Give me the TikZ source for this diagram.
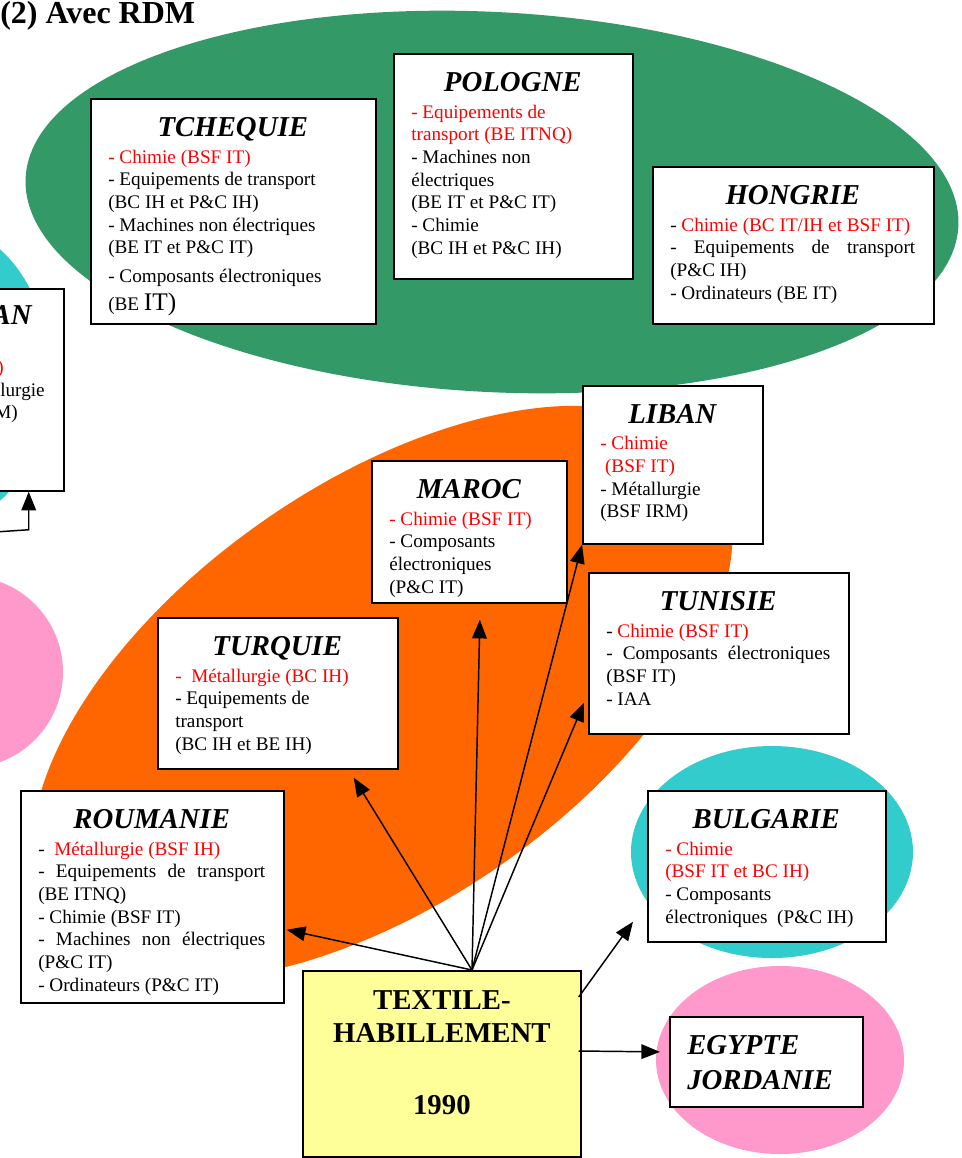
\documentclass[tikz,border=0pt]{standalone}
\usepackage{fontspec}
\setmainfont{Liberation Serif}
\usetikzlibrary{arrows.meta, calc}

\definecolor{vert}{RGB}{51,153,102}
\definecolor{orangeppt}{RGB}{255,102,0}
\definecolor{cyanppt}{RGB}{51,204,204}
\definecolor{rose}{RGB}{255,153,204}
\definecolor{jaune}{RGB}{255,255,153}

\newcommand{\rouge}[1]{\textcolor{red}{#1}}
\newcommand{\nom}[1]{\makebox[\hsize][c]{\fontsize{21.6}{25}\selectfont\bfseries\itshape #1}\\[3pt]}
\newcommand{\etale}[1]{\makebox[\hsize][s]{#1}}

\begin{document}
\begin{tikzpicture}[x=0.75pt, y=-0.75pt,
    boite/.style={draw, line width=1.3pt, fill=white, inner sep=0pt, anchor=north west},
    texte/.style={anchor=north west, align=left, inner xsep=13.5pt, inner ysep=14.25pt,
                  font=\fontsize{14.4}{17}\selectfont,
                  execute at begin node={\spaceskip=0pt\xspaceskip=0pt}},
    bout/.style={anchor=base east, inner sep=0pt, font=\fontsize{14.4}{17}\selectfont},
    fleche/.style={-{Triangle[length=14pt, width=11pt]}, line width=1.1pt}]

    % ================= Canvas =================
    \useasboundingbox (0,0) rectangle (962,1158);
    \clip (0,0) rectangle (962,1158);

    % ================= Backgrounds =================
    \fill[vert, rotate around={-3:(492,202)}] (492,202) ellipse [x radius=467, y radius=190];
    \fill[cyanppt] (-60,375) ellipse [x radius=110, y radius=150];
    \fill[rose] (-33,672) circle [radius=96];
    \fill[orangeppt, rotate around={35:(382,693)}] (382,693) ellipse [x radius=402, y radius=209];
    \fill[cyanppt] (772,852) ellipse [x radius=141, y radius=106];
    \fill[rose] (780,1060) ellipse [x radius=124, y radius=94];

    % ================= Title =================
    \node[anchor=base west, inner sep=0pt, font=\fontsize{24}{28}\selectfont\bfseries] (titre) at (0,23) {(2) Avec RDM};

    % ================= Countries (top) =================
    \node[boite, minimum width=213.75pt, minimum height=168.75pt] (tch) at (90,98) {};
    \node[texte, text width=186.75pt] (tch-t) at (tch.north west) {\nom{TCHEQUIE}
        \rouge{- Chimie (BSF IT)}\\
        - Equipements de transport\\
        (BC IH et P\&C IH)\\
        - Machines non électriques\\
        (BE IT et P\&C IT)\\[4.75pt]
        - Composants électroniques\\[4pt]
        (BE {\fontsize{19}{17}\selectfont IT)}};

    \node[boite, minimum width=179.25pt, minimum height=168.75pt] (pol) at (393,53) {};
    \node[texte, text width=152.25pt] (pol-t) at (pol.north west) {\nom{POLOGNE}
        \rouge{- Equipements de}\\
        \rouge{transport (BE ITNQ)}\\
        - Machines non\\
        électriques\\
        (BE IT et P\&C IT)\\
        - Chimie\\
        (BC IH et P\&C IH)};

    \node[boite, minimum width=210.75pt, minimum height=117.75pt] (hon) at (652,166) {};
    \node[texte, text width=183.75pt] (hon-t) at (hon.north west) {\nom{HONGRIE}
        - \rouge{Chimie (BC IT/IH et BSF IT)}\\
        \etale{- Equipements de transport}\\
        (P\&C IH)\\
        - Ordinateurs (BE IT)};

    % box cut by the left border
    \node[boite, minimum width=152.25pt, minimum height=151.5pt] (an) at (-140,288) {};
    \node[bout, font=\fontsize{21.6}{25}\selectfont\bfseries\itshape] (an-1) at (32,324) {AN};
    \node[bout, red] (an-2) at (4,373) {)};
    \node[bout] (an-3) at (45,396) {llurgie};
    \node[bout] (an-4) at (18,418) {M)};

    % ================= Countries (orange) =================
    \node[boite, minimum width=135pt, minimum height=118.5pt] (lib) at (582,385) {};
    \node[texte, text width=108pt] (lib-t) at (lib.north west) {\nom{LIBAN}
        \rouge{- Chimie}\\
        \rouge{\hspace*{0.25em}(BSF IT)}\\
        - Métallurgie\\
        (BSF IRM)};

    \node[boite, minimum width=146.25pt, minimum height=106.5pt] (mar) at (371,460) {};
    \node[texte, text width=119.25pt] (mar-t) at (mar.north west) {\nom{MAROC}
        \rouge{- Chimie (BSF IT)}\\
        - Composants\\
        électroniques\\
        (P\&C IT)};

    \node[boite, minimum width=195pt, minimum height=120.75pt] (tun) at (588,572) {};
    \node[texte, text width=168pt] (tun-t) at (tun.north west) {\nom{TUNISIE}
        - \rouge{Chimie (BSF IT)}\\
        \etale{- Composants électroniques}\\
        (BSF IT)\\
        - IAA};

    \node[boite, minimum width=180pt, minimum height=113.25pt] (tur) at (157,617) {};
    \node[texte, text width=153pt] (tur-t) at (tur.north west) {\nom{TURQUIE}
        \rouge{-\ \ Métallurgie (BC IH)}\\
        - Equipements de\\
        transport\\
        (BC IH et BE IH)};

    \node[boite, minimum width=197.25pt, minimum height=159pt] (rou) at (20,790) {};
    \node[texte, text width=170.25pt] (rou-t) at (rou.north west) {\nom{ROUMANIE}
        -\ \ \rouge{Métallurgie (BSF IH)}\\
        \etale{- Equipements de transport}\\
        (BE ITNQ)\\
        - Chimie (BSF IT)\\
        \etale{- Machines non électriques}\\
        (P\&C IT)\\
        - Ordinateurs (P\&C IT)};

    % ================= Countries (right) =================
    \node[boite, minimum width=178.5pt, minimum height=113.25pt] (bul) at (647,790) {};
    \node[texte, text width=151.5pt] (bul-t) at (bul.north west) {\nom{BULGARIE}
        \rouge{- Chimie}\\
        \rouge{(BSF IT et BC IH)}\\
        - Composants\\
        électroniques\ \ (P\&C IH)};

    \node[boite, minimum width=144.75pt, minimum height=67.5pt] (egy) at (669,1016) {};
    \node[texte, font=\fontsize{21.6}{26.25}\selectfont\bfseries\itshape] (egy-t) at (egy.north west) {EGYPTE\\JORDANIE};

    % ================= Sector =================
    \node[boite, fill=jaune, minimum width=208.5pt, minimum height=139.5pt] (tex) at (302,970) {};
    \node[anchor=north, align=center, inner sep=0pt, font=\fontsize{21.6}{24.75}\selectfont\bfseries]
        (tex-t) at ($(tex.north)+(0,20)$) {TEXTILE-\\HABILLEMENT\\[29.25pt]1990};

    % ================= Arrows =================
    \coordinate (hub) at ($(tex.north west)+(170,0)$);
    \draw[fleche] (hub) -- ($(rou.south east)+(2,-74)$);
    \draw[fleche] (hub) -- ($(tur.south east)+(-45,8)$);
    \draw[fleche] (hub) -- ($(mar.south)+(10.5,16)$);
    \draw[fleche] (hub) -- (lib.south west);
    \draw[fleche] (hub) -- ($(tun.south west)+(-4,-32)$);
    \draw[fleche] ($(tex.north east)+(-3,27)$) -- ($(bul.south west)+(-14,-21)$);
    \draw[fleche] ($(tex.north east)+(-3,81)$) -- ($(egy.west)+(-9,-10)$);

    \coordinate (an-in) at (-5,532);
    \draw[fleche] (an-in) -- ($(an.south east)+(-36,38)$) -- ($(an.south east)+(-36,0)$);

\end{tikzpicture}
\end{document}
